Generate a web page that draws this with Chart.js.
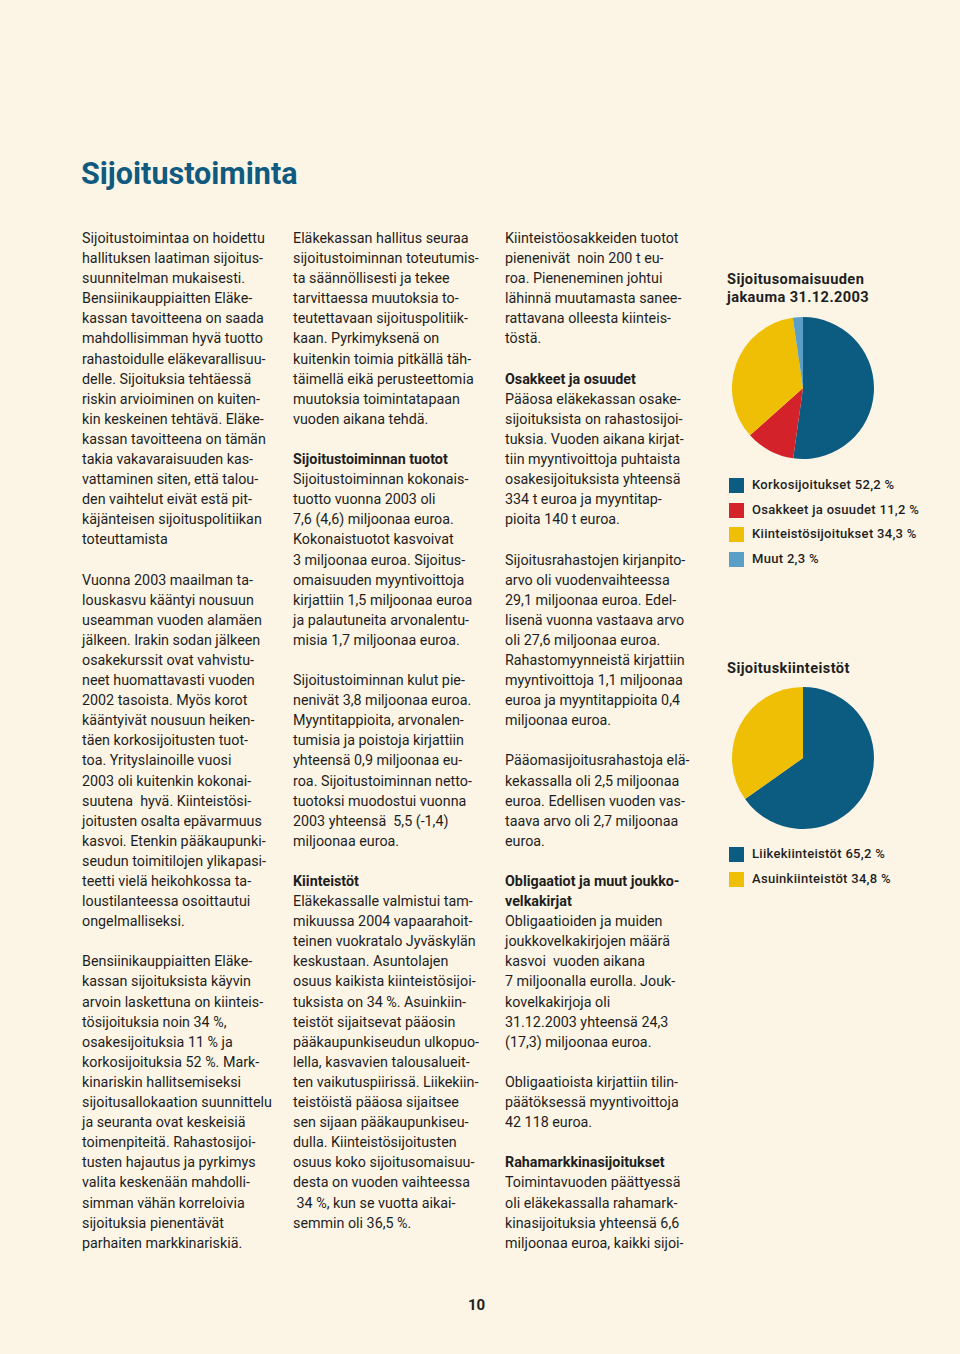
<!DOCTYPE html>
<html lang="fi">
<head>
<meta charset="utf-8">
<script src="https://cdn.jsdelivr.net/npm/chart.js@4.4.0/dist/chart.umd.min.js"></script>
<style>
  html, body { margin: 0; padding: 0; }
  body { width: 960px; height: 1354px; background: #fcf5e6; position: relative; overflow: hidden;
         font-family: 'Roboto', 'Liberation Sans', sans-serif; color: #1e1e1e; }
  h1 { position: absolute; left: 81px; top: 156px; margin: 0; font-size: 30.5px; font-weight: bold;
       color: #0f5a7e; letter-spacing: 0px; }
  .col { position: absolute; top: 228px; font-size: 14.3px; line-height: 20.1px; white-space: pre; }
  .col b { font-weight: bold; }
  .side { position: absolute; left: 727px; font-size: 14.6px; font-weight: bold; line-height: 18px;
          letter-spacing: 0.4px; color: #1e1e1e; }
  .legend { position: absolute; left: 729px; font-size: 13px; font-weight: 500; letter-spacing: 0.3px; color: #1e1e1e; }
  .legend div { position: relative; height: 24.6px; line-height: 16px; padding-left: 23px; }
  .legend span { position: absolute; left: 0; top: 1px; width: 15px; height: 15px; }
  canvas { position: absolute; }
  .page { position: absolute; left: 468px; top: 1296px; font-size: 15px; font-weight: bold; }
</style>
</head>
<body>
<h1>Sijoitustoiminta</h1>

<div class="col" style="left:82px">Sijoitustoimintaa on hoidettu
hallituksen laatiman sijoitus-
suunnitelman mukaisesti.
Bensiinikauppiaitten Eläke-
kassan tavoitteena on saada
mahdollisimman hyvä tuotto
rahastoidulle eläkevarallisuu-
delle. Sijoituksia tehtäessä
riskin arvioiminen on kuiten-
kin keskeinen tehtävä. Eläke-
kassan tavoitteena on tämän
takia vakavaraisuuden kas-
vattaminen siten, että talou-
den vaihtelut eivät estä pit-
käjänteisen sijoituspolitiikan
toteuttamista

Vuonna 2003 maailman ta-
louskasvu kääntyi nousuun
useamman vuoden alamäen
jälkeen. Irakin sodan jälkeen
osakekurssit ovat vahvistu-
neet huomattavasti vuoden
2002 tasoista. Myös korot
kääntyivät nousuun heiken-
täen korkosijoitusten tuot-
toa. Yrityslainoille vuosi
2003 oli kuitenkin kokonai-
suutena  hyvä. Kiinteistösi-
joitusten osalta epävarmuus
kasvoi. Etenkin pääkaupunki-
seudun toimitilojen ylikapasi-
teetti vielä heikohkossa ta-
loustilanteessa osoittautui
ongelmalliseksi.

Bensiinikauppiaitten Eläke-
kassan sijoituksista käyvin
arvoin laskettuna on kiinteis-
tösijoituksia noin 34 %,
osakesijoituksia 11 % ja
korkosijoituksia 52 %. Mark-
kinariskin hallitsemiseksi
sijoitusallokaation suunnittelu
ja seuranta ovat keskeisiä
toimenpiteitä. Rahastosijoi-
tusten hajautus ja pyrkimys
valita keskenään mahdolli-
simman vähän korreloivia
sijoituksia pienentävät
parhaiten markkinariskiä.</div>

<div class="col" style="left:293px">Eläkekassan hallitus seuraa
sijoitustoiminnan toteutumis-
ta säännöllisesti ja tekee
tarvittaessa muutoksia to-
teutettavaan sijoituspolitiik-
kaan. Pyrkimyksenä on
kuitenkin toimia pitkällä täh-
täimellä eikä perusteettomia
muutoksia toimintatapaan
vuoden aikana tehdä.

<b>Sijoitustoiminnan tuotot</b>
Sijoitustoiminnan kokonais-
tuotto vuonna 2003 oli
7,6 (4,6) miljoonaa euroa.
Kokonaistuotot kasvoivat
3 miljoonaa euroa. Sijoitus-
omaisuuden myyntivoittoja
kirjattiin 1,5 miljoonaa euroa
ja palautuneita arvonalentu-
misia 1,7 miljoonaa euroa.

Sijoitustoiminnan kulut pie-
nenivät 3,8 miljoonaa euroa.
Myyntitappioita, arvonalen-
tumisia ja poistoja kirjattiin
yhteensä 0,9 miljoonaa eu-
roa. Sijoitustoiminnan netto-
tuotoksi muodostui vuonna
2003 yhteensä  5,5 (-1,4)
miljoonaa euroa.

<b>Kiinteistöt</b>
Eläkekassalle valmistui tam-
mikuussa 2004 vapaarahoit-
teinen vuokratalo Jyväskylän
keskustaan. Asuntolajen
osuus kaikista kiinteistösijoi-
tuksista on 34 %. Asuinkiin-
teistöt sijaitsevat pääosin
pääkaupunkiseudun ulkopuo-
lella, kasvavien talousalueit-
ten vaikutuspiirissä. Liikekiin-
teistöistä pääosa sijaitsee
sen sijaan pääkaupunkiseu-
dulla. Kiinteistösijoitusten
osuus koko sijoitusomaisuu-
desta on vuoden vaihteessa
 34 %, kun se vuotta aikai-
semmin oli 36,5 %.</div>

<div class="col" style="left:505px">Kiinteistöosakkeiden tuotot
pienenivät  noin 200 t eu-
roa. Pieneneminen johtui
lähinnä muutamasta sanee-
rattavana olleesta kiinteis-
töstä.

<b>Osakkeet ja osuudet</b>
Pääosa eläkekassan osake-
sijoituksista on rahastosijoi-
tuksia. Vuoden aikana kirjat-
tiin myyntivoittoja puhtaista
osakesijoituksista yhteensä
334 t euroa ja myyntitap-
pioita 140 t euroa.

Sijoitusrahastojen kirjanpito-
arvo oli vuodenvaihteessa
29,1 miljoonaa euroa. Edel-
lisenä vuonna vastaava arvo
oli 27,6 miljoonaa euroa.
Rahastomyynneistä kirjattiin
myyntivoittoja 1,1 miljoonaa
euroa ja myyntitappioita 0,4
miljoonaa euroa.

Pääomasijoitusrahastoja elä-
kekassalla oli 2,5 miljoonaa
euroa. Edellisen vuoden vas-
taava arvo oli 2,7 miljoonaa
euroa.

<b>Obligaatiot ja muut joukko-
velkakirjat</b>
Obligaatioiden ja muiden
joukkovelkakirjojen määrä
kasvoi  vuoden aikana
7 miljoonalla eurolla. Jouk-
kovelkakirjoja oli
31.12.2003 yhteensä 24,3
(17,3) miljoonaa euroa.

Obligaatioista kirjattiin tilin-
päätöksessä myyntivoittoja
42 118 euroa.

<b>Rahamarkkinasijoitukset</b>
Toimintavuoden päättyessä
oli eläkekassalla rahamark-
kinasijoituksia yhteensä 6,6
miljoonaa euroa, kaikki sijoi-</div>

<div class="side" style="top:270px">Sijoitusomaisuuden<br>jakauma 31.12.2003</div>
<canvas id="pie1" width="142" height="142" style="left:732px; top:317px; width:142px; height:142px"></canvas>
<div class="legend" id="legend1" style="top:477px"></div>

<div class="side" style="top:659px">Sijoituskiinteistöt</div>
<canvas id="pie2" width="142" height="142" style="left:732px; top:687px; width:142px; height:142px"></canvas>
<div class="legend" id="legend2" style="top:846px"></div>

<div class="page">10</div>

<script>
// Sijoitusomaisuuden jakauma 31.12.2003
const jakaumaLabels = ['Korkosijoitukset', 'Osakkeet ja osuudet', 'Kiinteistösijoitukset', 'Muut'];
const jakaumaValues = [52.2, 11.2, 34.3, 2.3];
const jakaumaColors = ['#0c5b80', '#d3222a', '#eebf05', '#5a9fc6'];

// Sijoituskiinteistöt
const kiinteistoLabels = ['Liikekiinteistöt', 'Asuinkiinteistöt'];
const kiinteistoValues = [65.2, 34.8];
const kiinteistoColors = ['#0c5b80', '#eebf05'];

function piirraPiirakka(id, labels, values, colors) {
  return new Chart(document.getElementById(id), {
    type: 'pie',
    data: {
      labels: labels,
      datasets: [{
        data: values,
        backgroundColor: colors,
        borderWidth: 0
      }]
    },
    options: {
      responsive: false,
      animation: false,
      layout: { padding: 0 },
      plugins: {
        legend: { display: false },
        tooltip: { enabled: false }
      }
    }
  });
}

function teeSelite(id, labels, values, colors) {
  const el = document.getElementById(id);
  labels.forEach((nimi, i) => {
    const rivi = document.createElement('div');
    const arvo = values[i].toFixed(1).replace('.', ',');
    rivi.innerHTML = `<span style="background:${colors[i]}"></span>${nimi} ${arvo} %`;
    el.appendChild(rivi);
  });
}

piirraPiirakka('pie1', jakaumaLabels, jakaumaValues, jakaumaColors);
piirraPiirakka('pie2', kiinteistoLabels, kiinteistoValues, kiinteistoColors);
teeSelite('legend1', jakaumaLabels, jakaumaValues, jakaumaColors);
teeSelite('legend2', kiinteistoLabels, kiinteistoValues, kiinteistoColors);
</script>
</body>
</html>
